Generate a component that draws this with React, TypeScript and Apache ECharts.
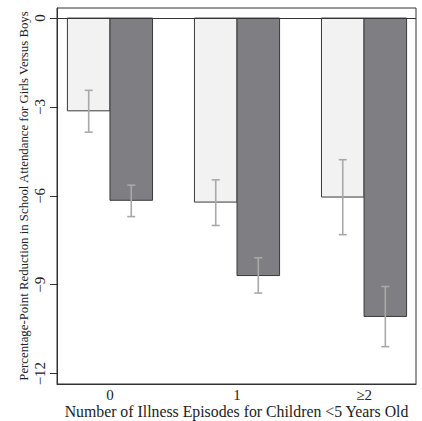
import React, { useEffect, useRef } from "react";
import * as echarts from "echarts";

const categories = ["0", "1", "≥2"];
const categoryPos = [0, 1, 2];
const girlsLight = [-3.13, -6.21, -6.04];
const lightLow = [-3.85, -7.0, -7.31];
const lightHigh = [-2.44, -5.46, -4.78];
const boysDark = [-6.15, -8.69, -10.07];
const darkLow = [-6.7, -9.28, -11.09];
const darkHigh = [-5.64, -8.09, -9.06];
const yTicks = [0, -3, -6, -9, -12];

const FONT = "Liberation Serif, Times New Roman, serif";
const BAR_W = 0.335;

function makeRender(side: number, fill: string) {
  return (params: any, api: any) => {
    const cx = api.value(0);
    const v = api.value(1);
    const lo = api.value(2);
    const hi = api.value(3);
    const x0 = side < 0 ? cx - BAR_W : cx;
    const x1 = side < 0 ? cx : cx + BAR_W;
    const p0 = api.coord([x0, 0]);
    const p1 = api.coord([x1, v]);
    const mid = (x0 + x1) / 2;
    const e0 = api.coord([mid, lo]);
    const e1 = api.coord([mid, hi]);
    const cap = 4;
    const errStyle = { stroke: "#a9a9a9", lineWidth: 1.6 };
    return {
      type: "group",
      children: [
        {
          type: "rect",
          shape: { x: p0[0], y: p0[1], width: p1[0] - p0[0], height: p1[1] - p0[1] },
          style: { fill, stroke: "#3a3a3a", lineWidth: 1 },
        },
        { type: "line", shape: { x1: e0[0], y1: e0[1], x2: e1[0], y2: e1[1] }, style: errStyle },
        { type: "line", shape: { x1: e0[0] - cap, y1: e0[1], x2: e0[0] + cap, y2: e0[1] }, style: errStyle },
        { type: "line", shape: { x1: e1[0] - cap, y1: e1[1], x2: e1[0] + cap, y2: e1[1] }, style: errStyle },
      ],
    };
  };
}

export default function App() {
  const ref = useRef<HTMLDivElement>(null);
  useEffect(() => {
    const chart = echarts.init(ref.current!, null, { renderer: "svg" });
    const lightData = categoryPos.map((x, i) => [x, girlsLight[i], lightLow[i], lightHigh[i]]);
    const darkData = categoryPos.map((x, i) => [x, boysDark[i], darkLow[i], darkHigh[i]]);
    chart.setOption({
      animation: false,
      backgroundColor: "#ffffff",
      grid: {
        left: 57,
        top: 8,
        right: 6,
        bottom: 37,
        outerBoundsMode: "none",
        containLabel: false,
        show: true,
        borderColor: "#333",
        borderWidth: 1,
        backgroundColor: "transparent",
      },
      xAxis: {
        type: "value",
        min: -0.417,
        max: 2.409,
        name: "Number of Illness Episodes for Children <5 Years Old",
        nameLocation: "middle",
        nameGap: 19,
        nameMoveOverlap: false,
        nameTextStyle: { fontFamily: FONT, fontSize: 15.8, color: "#222" },
        axisLine: { show: true, onZero: false, lineStyle: { color: "#333", width: 1 } },
        axisTick: { show: false },
        splitLine: { show: false },
        axisLabel: {
          customValues: categoryPos,
          formatter: (v: number) => categories[Math.round(v)],
          fontFamily: FONT,
          fontSize: 15,
          color: "#222",
          margin: 3,
        },
      },
      yAxis: {
        type: "value",
        min: -12.35,
        max: 0.34,
        name: "Percentage-Point Reduction in School Attendance for Girls Versus Boys",
        nameLocation: "middle",
        nameGap: 27,
        nameMoveOverlap: false,
        nameTextStyle: { fontFamily: FONT, fontSize: 12.8, color: "#222" },
        axisLine: { show: true, onZero: false, lineStyle: { color: "#333", width: 1 } },
        axisTick: { show: true, customValues: yTicks, length: 7, lineStyle: { color: "#333" } },
        splitLine: { show: false },
        axisLabel: {
          customValues: yTicks,
          rotate: 90,
          formatter: (v: number) => (v < 0 ? "\u2212" + Math.abs(v) : String(v)),
          fontFamily: FONT,
          fontSize: 15,
          color: "#222",
          margin: 10,
        },
      },
      series: [
        {
          type: "custom",
          renderItem: makeRender(-1, "#f2f2f2"),
          data: lightData,
          encode: { x: 0, y: 1 },
          markLine: {
            silent: true,
            symbol: "none",
            label: { show: false },
            lineStyle: { color: "#333", width: 1, type: "solid" },
            data: [{ yAxis: 0 }],
          },
        },
        {
          type: "custom",
          renderItem: makeRender(1, "#7f7f83"),
          data: darkData,
          encode: { x: 0, y: 1 },
        },
      ],
    });
    return () => chart.dispose();
  }, []);
  return <div ref={ref} style={{ width: 422, height: 421, position: "absolute", left: 0, top: 0 }} />;
}
